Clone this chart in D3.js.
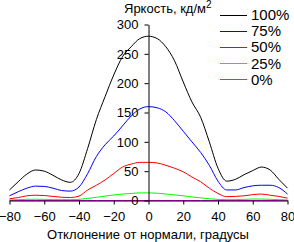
<!DOCTYPE html>
<html>
<head>
<meta charset="utf-8">
<script src="https://cdn.jsdelivr.net/npm/d3@7"></script>
<style>
  body { margin: 0; background: #fff; }
  text { font-family: "Liberation Sans", Arial, sans-serif; fill: #000; }
</style>
</head>
<body>
<div id="chart"></div>
<script>
// viewing angles, degrees
var angles = [-80,-75,-70,-65,-60,-55,-50,-45,-40,-35,-30,-25,-20,-15,-10,-5,0,
              5,10,15,20,25,30,35,40,45,50,55,60,65,70,75,80];

// brightness, cd/m2
var s100 = [18,32,45,52,50,43,35,31,46,89,138,177,214,245,262,276,280,
            276,262,238,202,168,142,100,55,33,36,44,51,57,52,36,21];
var s75  = [8,15,21,24.5,24,21,17,16,23,46,75,95,110,127,144,156,160,
            158,151,136,118,100,82,60,33,18,18,22,25,26,26,22,11];
var s50  = [3,5,8,9,8.5,7,5.5,5,7.5,18,26,35,46,57,62,65,65,
            64,60,55,49,40,32,21,12,6.5,7,8,10,11,9,7,4];
var s25  = [1,1.5,2,2,2,1.5,1.5,1.5,2,3.5,5.5,7.5,9.5,11,12,13,13,
            12.5,11,9.5,8,6,4.5,3,1.8,1.5,1.5,2,2.5,2.5,2,1.5,1];
var s0   = [0,0,0,0,0,0,0,0,0,0,0,0,0,0,0,0,0,
            0,0,0,0,0,0,0,0,0,0,0,0,0,0,0,0];

var seriesNames = ["100%","75%","50%","25%","0%"];
var seriesColors = ["#000000","#0000ff","#ff0000","#00ff00","#ff00ff"];
var xTicks = [-80,-60,-40,-20,0,20,40,60,80];
var yTicks = [0,50,100,150,200,250,300];

var series = [s100, s75, s50, s25, s0];

var width = 294, height = 242;

var x = d3.scaleLinear().domain([-80, 80]).range([9.5, 287.5]);
var y = d3.scaleLinear().domain([0, 300]).range([200.5, 24.5]);

var svg = d3.select("#chart").append("svg")
    .attr("width", width)
    .attr("height", height);

// curves (drawn from 0% up so the 100% line is on top)
var line = d3.line()
    .x(function(d, i) { return x(angles[i]); })
    .y(function(d) { return y(d); })
    .curve(d3.curveMonotoneX);

for (var k = series.length - 1; k >= 0; k--) {
  svg.append("path")
      .datum(series[k])
      .attr("fill", "none")
      .attr("stroke", seriesColors[k])
      .attr("stroke-width", 1)
      .attr("d", line);
}

// X axis
var xAxis = svg.append("g")
    .attr("transform", "translate(0," + y(0) + ")")
    .call(d3.axisBottom(x).tickValues(xTicks).tickSize(4).tickSizeOuter(0).tickPadding(7));

// Y axis
var yAxis = svg.append("g")
    .attr("transform", "translate(" + x(0) + ",0)")
    .call(d3.axisLeft(y).tickValues(yTicks).tickSize(4).tickSizeOuter(0).tickPadding(6));

[xAxis, yAxis].forEach(function(g) {
  g.select(".domain").attr("stroke", "#000");
  g.selectAll(".tick line").attr("stroke", "#000");
  g.selectAll(".tick text")
      .attr("font-size", 13)
      .attr("font-family", "Liberation Sans, Arial, sans-serif")
      .attr("fill", "#000");
});

// title
var title = svg.append("text")
    .attr("x", 124)
    .attr("y", 13)
    .attr("font-size", 13);
title.append("tspan").text("Яркость, кд/м");
title.append("tspan").attr("dy", -5).attr("font-size", 10).text("2");

// x label
svg.append("text")
    .attr("x", 148)
    .attr("y", 239)
    .attr("text-anchor", "middle")
    .attr("font-size", 13)
    .text("Отклонение от нормали, градусы");

// legend
var legend = svg.append("g");
seriesNames.forEach(function(name, i) {
  var ly = 14.5 + i * 16.2;
  legend.append("line")
      .attr("x1", 220).attr("x2", 247)
      .attr("y1", Math.round(ly) + 0.5).attr("y2", Math.round(ly) + 0.5)
      .attr("stroke", seriesColors[i]);
  legend.append("text")
      .attr("x", 251)
      .attr("y", ly + 5.5)
      .attr("font-size", 15)
      .text(name);
});
</script>
</body>
</html>
